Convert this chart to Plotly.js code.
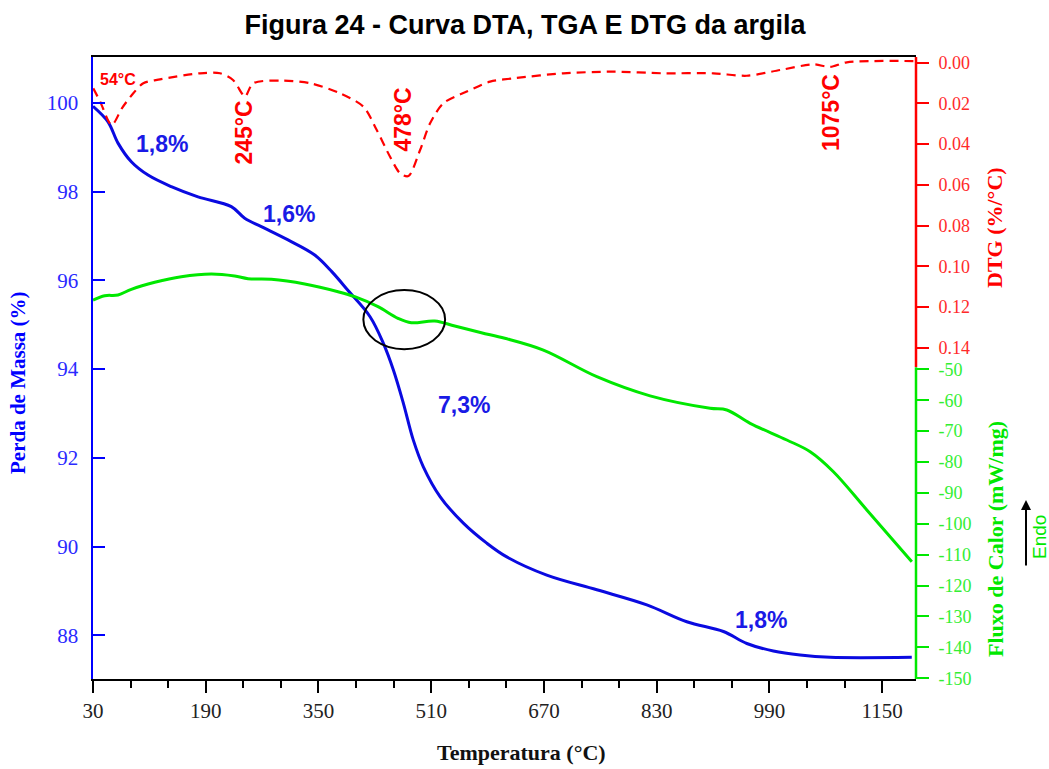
<!DOCTYPE html>
<html>
<head>
<meta charset="utf-8">
<script src="https://cdn.plot.ly/plotly-3.0.1.min.js"></script>
<style>html,body{margin:0;padding:0;background:#fff;}#chart{width:1049px;height:769px;}</style>
</head>
<body>
<div id="chart"></div>
<script>
// ---- Data ----
const tempTGA = [30, 51.3, 65.5, 84.4, 108.1, 141.1, 179.0, 226.3, 245.3, 268.9, 306.8, 344.7, 369.2, 392.0, 423.2, 442.1, 456.3, 470.5, 484.6, 498.8, 522.5, 555.6, 588.8, 617.2, 674.0, 745.0, 816.0, 872.7, 924.7, 957.9, 995.6, 1033.5, 1076.1, 1192];
const massTGA = [99.92, 99.57, 99.09, 98.67, 98.37, 98.11, 97.88, 97.66, 97.40, 97.21, 96.91, 96.57, 96.19, 95.77, 95.18, 94.58, 93.98, 93.23, 92.40, 91.80, 91.13, 90.53, 90.08, 89.77, 89.36, 89.03, 88.69, 88.31, 88.09, 87.82, 87.65, 87.56, 87.51, 87.51];

const tempDTG = [30.4, 40, 56.5, 71.2, 87.2, 101.4, 125.1, 181.9, 210.3, 228.7, 241.1, 245.8, 257.5, 300.1, 338.0, 380.6, 413.7, 432.7, 451.6, 465.8, 477.6, 494.2, 508.4, 527.2, 560.4, 593.5, 626.6, 697.6, 768.5, 839.5, 910.5, 957.9, 1005.1, 1052.4, 1076.0, 1099.8, 1194.3];
const valDTG  = [0.0126, 0.019, 0.0306, 0.0223, 0.0150, 0.0101, 0.0082, 0.0052, 0.0052, 0.0085, 0.0150, 0.0168, 0.0101, 0.0088, 0.0101, 0.0150, 0.0216, 0.0331, 0.0462, 0.0543, 0.0557, 0.0429, 0.0298, 0.0199, 0.0142, 0.0093, 0.0077, 0.0052, 0.0044, 0.0052, 0.0052, 0.0064, 0.0036, 0.0008, 0.0021, -0.0002, -0.0008];

const tempDTA = [30, 46.6, 65.5, 84.4, 117.6, 155.3, 197.9, 231.1, 250.0, 283.1, 330.5, 377.8, 401.5, 434.5, 462.9, 481.8, 515.0, 543.4, 581.2, 614.4, 669.2, 745.0, 820.6, 905.8, 929.5, 962.6, 1014.7, 1047.8, 1080.8, 1128.2, 1192.1];
const valDTA  = [-27.6, -26.18, -25.95, -24.11, -21.84, -20.03, -19.16, -19.81, -20.68, -20.87, -22.39, -24.89, -26.50, -29.74, -33.50, -34.92, -34.37, -35.99, -38.16, -39.97, -43.8, -52.4, -58.6, -62.62, -63.17, -67.48, -72.88, -76.67, -83.14, -95.53, -112.27];

const xTicks = [30, 190, 350, 510, 670, 830, 990, 1150];
const massTicks = [88, 90, 92, 94, 96, 98, 100];
const dtgTicks = [0, 0.02, 0.04, 0.06, 0.08, 0.10, 0.12, 0.14];
const dtaTicks = [-50, -60, -70, -80, -90, -100, -110, -120, -130, -140, -150];
const dtaTickText = dtaTicks.map(v => String(v));

const peakLabels = ['54°C', '245°C', '478°C', '1075°C'];
const lossLabels = ['1,8%', '1,6%', '7,3%', '1,8%'];

// ---- Layout helpers (pixel -> paper) ----
const L = 93, R = 916, T = 57, B = 679;
const px = x => (x - L) / (R - L);
const py = y => (B - y) / (B - T);

const RED = '#ff0000', BLUE = '#0000ff', GREEN = '#00e800';
const serif = 'Liberation Serif, Times New Roman, serif';
const sans = 'Liberation Sans, Arial, sans-serif';

const traces = [
  {x: tempTGA, y: massTGA, type: 'scatter', mode: 'lines', yaxis: 'y',
   line: {color: '#0a0ae0', width: 3, shape: 'spline', smoothing: 1}, name: 'TGA'},
  {x: tempDTG, y: valDTG, type: 'scatter', mode: 'lines', yaxis: 'y2',
   line: {color: RED, width: 2.2, dash: '9px,6px', shape: 'spline', smoothing: 0.8}, name: 'DTG'},
  {x: tempDTA, y: valDTA, type: 'scatter', mode: 'lines', yaxis: 'y3',
   line: {color: GREEN, width: 3, shape: 'spline', smoothing: 1}, name: 'DTA'}
];

const ann = [];
const peakPos = [[118, 80, 0, 16], [244, 132.5, -90, 23], [402.5, 120, -90, 23], [831, 113, -90, 23]];
peakLabels.forEach((t, i) => {
  const p = peakPos[i];
  ann.push({text: t, xref: 'paper', yref: 'paper', x: px(p[0]), y: py(p[1]), xanchor: 'center', yanchor: 'middle',
    showarrow: false, textangle: p[2], font: {family: sans, size: p[3], color: RED, weight: 'bold'}});
});
const lossPos = [[162, 144], [289, 214], [464, 405], [761, 620]];
lossLabels.forEach((t, i) => {
  const p = lossPos[i];
  ann.push({text: t, xref: 'paper', yref: 'paper', x: px(p[0]), y: py(p[1]), xanchor: 'center', yanchor: 'middle',
    showarrow: false, font: {family: sans, size: 23, color: '#1a1ae6', weight: 'bold'}});
});
// axis titles
ann.push({text: 'Temperatura (°C)', xref: 'paper', yref: 'paper', x: px(521), y: py(752), xanchor: 'center', yanchor: 'middle',
  showarrow: false, font: {family: serif, size: 22, color: '#111', weight: 'bold'}});
ann.push({text: 'Perda de Massa (%)', xref: 'paper', yref: 'paper', x: px(18), y: py(383), xanchor: 'center', yanchor: 'middle',
  showarrow: false, textangle: -90, font: {family: serif, size: 21, color: BLUE, weight: 'bold'}});
ann.push({text: 'DTG (%/°C)', xref: 'paper', yref: 'paper', x: px(994), y: py(228), xanchor: 'center', yanchor: 'middle',
  showarrow: false, textangle: -90, font: {family: serif, size: 22, color: RED, weight: 'bold'}});
ann.push({text: 'Fluxo de Calor (mW/mg)', xref: 'paper', yref: 'paper', x: px(995), y: py(539), xanchor: 'center', yanchor: 'middle',
  showarrow: false, textangle: -90, font: {family: serif, size: 22, color: GREEN, weight: 'bold'}});
ann.push({text: 'Endo', xref: 'paper', yref: 'paper', x: px(1039), y: py(537), xanchor: 'center', yanchor: 'middle',
  showarrow: false, textangle: -90, font: {family: sans, size: 19, color: GREEN}});
ann.push({text: '', xref: 'paper', yref: 'paper', x: px(1026), y: py(500), ax: 0, ay: 67,
  showarrow: true, arrowhead: 2, arrowsize: 1, arrowwidth: 2, arrowcolor: '#000'});

const layout = {
  width: 1049, height: 769,
  margin: {l: L, r: 1049 - R, t: T, b: 769 - B, pad: 0},
  paper_bgcolor: '#fff', plot_bgcolor: '#fff',
  showlegend: false,
  title: {text: 'Figura 24 - Curva DTA, TGA E DTG da argila', x: 525 / 1049, xanchor: 'center', xref: 'container',
    y: 1 - 25 / 769, yanchor: 'middle', yref: 'container',
    font: {family: sans, size: 27, color: '#000', weight: 'bold'}},
  xaxis: {range: [30, 1198], tickvals: xTicks, ticks: 'outside', ticklen: 12, tickwidth: 2, tickcolor: '#000',
    showline: true, linecolor: '#000', linewidth: 2, mirror: true, showgrid: false, zeroline: false,
    tickfont: {family: serif, size: 21, color: '#222'},
    minor: {tickvals: [83.33, 136.67, 243.33, 296.67, 403.33, 456.67, 563.33, 616.67, 723.33, 776.67, 883.33, 936.67, 1043.33, 1096.67], ticks: 'outside', ticklen: 7, tickwidth: 2, tickcolor: '#000', showgrid: false}},
  yaxis: {range: [87.02, 101.03], tickvals: massTicks, ticks: 'inside', ticklen: 12, tickwidth: 2, tickcolor: BLUE,
    showline: true, linecolor: BLUE, linewidth: 2.5, showgrid: false, zeroline: false, ticklabelstandoff: 8,
    tickfont: {family: serif, size: 21, color: '#2a2aff'}},
  yaxis2: {overlaying: 'y', side: 'right', anchor: 'x', range: [0.30275, -0.0028], tickvals: dtgTicks, tickformat: '.2f',
    ticks: 'outside', ticklen: 12, tickwidth: 2, tickcolor: RED, showline: false, showgrid: false, zeroline: false,
    ticklabelstandoff: 6, tickfont: {family: serif, size: 18, color: '#ff2a2a'}},
  yaxis3: {overlaying: 'y', side: 'right', anchor: 'x', range: [-150.23, 51.07], tickvals: dtaTicks, ticktext: dtaTickText,
    ticks: 'outside', ticklen: 12, tickwidth: 2, tickcolor: GREEN, showline: false, showgrid: false, zeroline: false,
    ticklabelstandoff: 6, tickfont: {family: serif, size: 18, color: '#33ee33'}},
  shapes: [
    {type: 'line', xref: 'paper', x0: 1, x1: 1, yref: 'y2', y0: -0.0028, y1: 0.1495, line: {color: RED, width: 2.5}},
    {type: 'line', xref: 'paper', x0: 1, x1: 1, yref: 'y3', y0: -49.3, y1: -150.23, line: {color: GREEN, width: 2.5}},
    {type: 'circle', xref: 'x', yref: 'y', x0: 413.7, x1: 529.7, y0: 94.45, y1: 95.78, line: {color: '#000', width: 2}}
  ],
  annotations: ann
};

Plotly.newPlot('chart', traces, layout, {displayModeBar: false, staticPlot: true});
</script>
</body>
</html>
